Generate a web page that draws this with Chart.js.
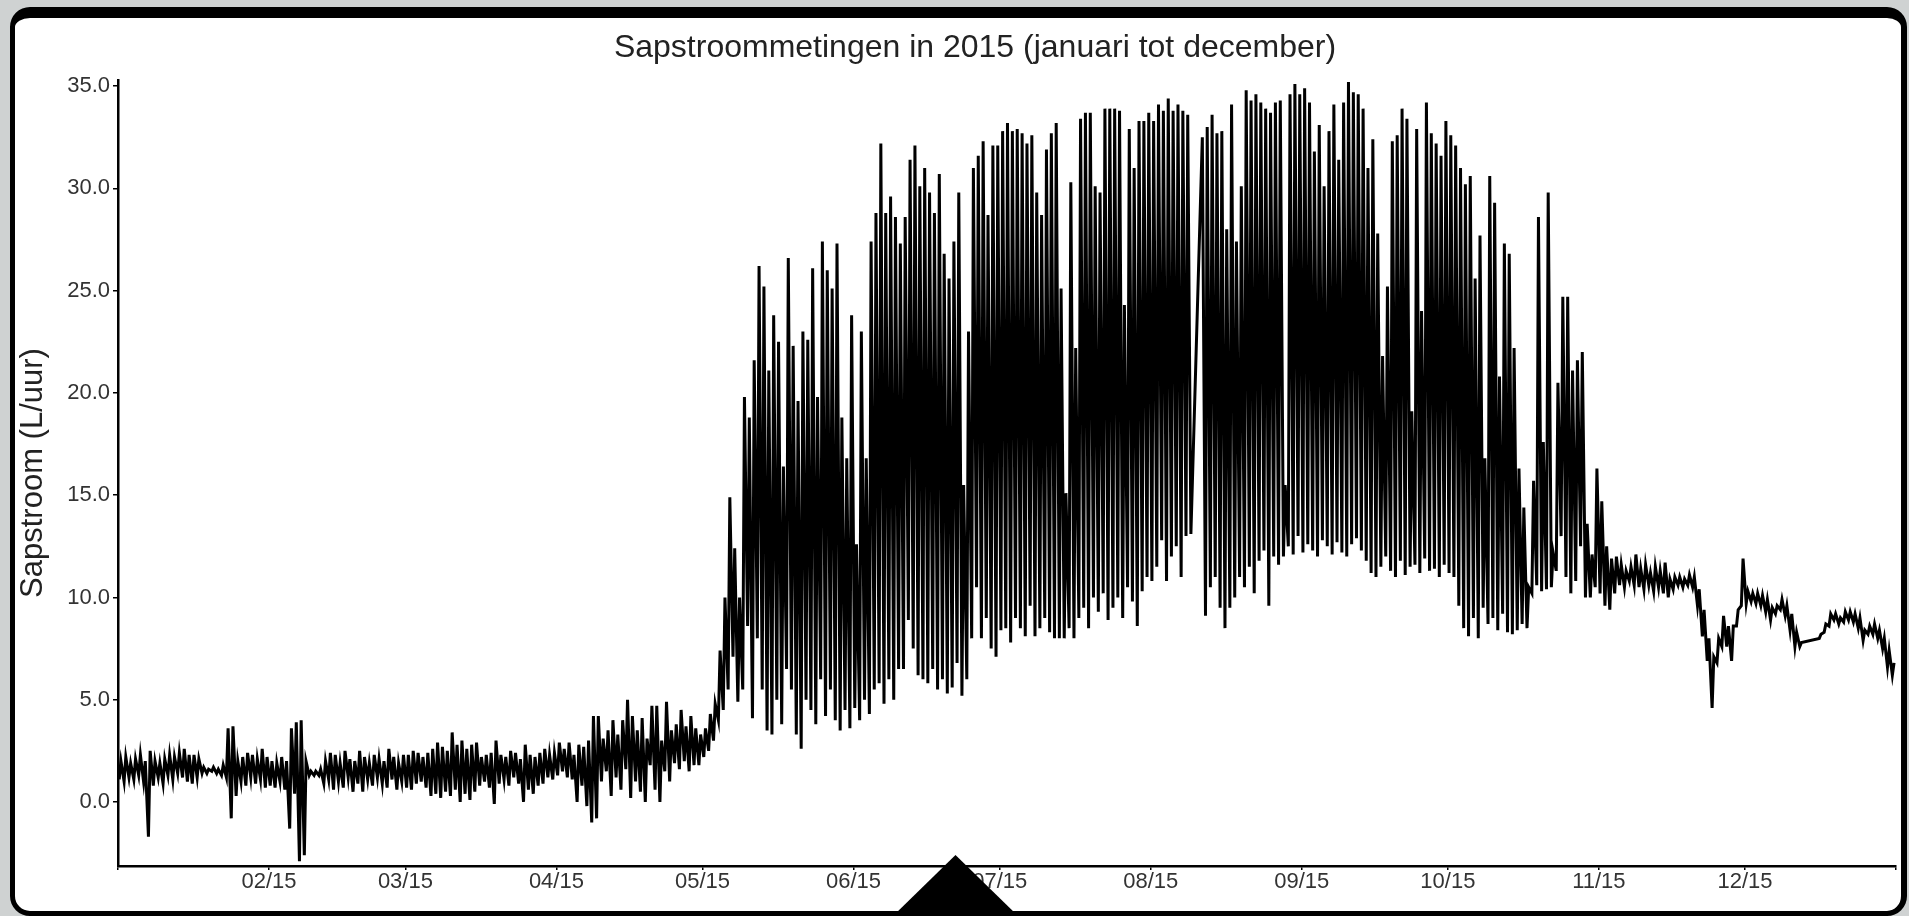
<!DOCTYPE html>
<html>
<head>
<meta charset="utf-8">
<script src="https://cdn.jsdelivr.net/npm/chart.js@4/dist/chart.umd.min.js"></script>
<style>
  html, body { margin: 0; padding: 0; width: 1909px; height: 916px; overflow: hidden; background: #cfd2d2; }
  #paneel { position: absolute; left: 10px; top: 7px; width: 1886px; height: 893px; background: #fff;
            border: 5px solid #000; border-top-width: 11px; border-right-width: 6px; border-radius: 20px; }
  #grafiek { position: absolute; left: 0; top: 0; width: 1909px; height: 916px; }
  #pijl { position: absolute; left: 893px; top: 855px; width: 125px; height: 61px; background: #000;
          clip-path: polygon(50% 0, 100% 100%, 0 100%); }
</style>
</head>
<body>
<div id="paneel"></div>
<div id="grafiek"><canvas id="sapstroom"></canvas></div>
<div id="pijl"></div>
<script>
// dagelijkse maxima / minima (L/uur), dag 0 = 1 januari 2015, null = geen meting
const dagMax = [
  // jan
  2.0, 2.2, 1.9, 2.1, 2.3, 2.0, 2.5, 2.0, 1.9, 2.1, 2.3, 2.2, 2.4, 2.6, 2.3, 2.3, 2.1, 1.7, 1.6, 1.7, 1.6, 1.8, 3.6, 3.7, 2.0, 2.2, 2.4, 2.3, 2.1, 2.6, 2.2,
  // feb
  2.0, 1.9, 2.2, 2.0, 3.6, 3.9, 4.0, 2.0, 1.5, 1.5, 1.6, 2.0, 2.4, 2.3, 1.9, 2.5, 2.1, 2.0, 2.5, 2.2, 1.9, 2.3, 2.1, 2.0, 2.6, 2.2, 1.9, 2.3,
  // mrt
  2.3, 2.5, 2.4, 2.2, 2.4, 2.6, 2.9, 2.7, 2.5, 3.4, 2.8, 3.0, 2.6, 2.8, 2.9, 2.2, 2.3, 2.4, 3.0, 2.3, 2.2, 2.5, 2.4, 2.1, 2.8, 2.3, 2.2, 2.4, 2.6, 2.3, 2.4,
  // apr
  2.9, 2.6, 2.9, 2.3, 2.8, 2.7, 3.0, 4.2, 4.2, 3.1, 3.5, 4.0, 3.3, 4.0, 5.0, 4.2, 3.5, 4.1, 3.1, 4.7, 4.7, 3.0, 4.9, 3.5, 3.8, 4.5, 3.7, 4.2, 3.6, 3.3,
  // mei
  3.6, 4.3, 4.8, 7.4, 10.0, 14.9, 12.4, 10.0, 19.8, 18.8, 21.6, 26.2, 25.2, 21.1, 23.8, 22.5, 16.4, 26.6, 22.3, 19.6, 23.0, 22.6, 26.1, 19.8, 27.4, 26.0, 25.1, 27.3, 18.8, 16.8, 23.8,
  // jun
  12.6, 23.0, 16.8, 27.4, 28.8, 32.2, 28.8, 29.6, 28.6, 27.3, 28.6, 31.4, 32.1, 30.1, 31.0, 29.8, 28.8, 30.7, 26.8, 25.6, 27.4, 29.8, 15.5, 23.0, 31.0, 31.6, 32.3, 28.7, 32.1, 32.1,
  // jul
  32.8, 33.2, 32.8, 32.9, 32.7, 32.2, 32.6, 29.8, 28.7, 31.9, 32.7, 33.2, 25.1, 15.1, 30.3, 22.2, 33.4, 33.7, 33.7, 30.1, 29.8, 33.9, 33.9, 33.9, 33.8, 24.3, 32.9, 31.0, 33.3, 33.3, 33.7,
  // aug
  33.3, 34.1, 33.8, 34.4, 33.8, 34.1, 33.8, 33.6, null, null, 32.5, 33.0, 33.6, 32.7, 32.8, 28.0, 34.1, 27.4, 30.1, 34.8, 34.3, 34.6, 34.2, 33.9, 33.7, 34.2, 34.3, 15.5, 34.6, 35.1, 34.6,
  // sep
  34.9, 34.2, 31.8, 33.1, 30.1, 32.8, 34.1, 31.4, 34.2, 35.2, 34.7, 34.6, 33.9, 31.0, 32.4, 27.8, 21.8, 25.2, 32.3, 32.6, 33.9, 33.4, 19.1, 32.9, 24.0, 34.2, 32.7, 32.2, 31.6, 33.3,
  // okt
  32.6, 32.1, 31.0, 30.2, 30.6, 25.6, 27.7, 16.8, 30.6, 29.3, 20.8, 27.3, 26.8, 22.2, 16.3, 14.4, 10.5, 15.7, 28.6, 17.6, 29.8, 12.2, 20.5, 24.7, 24.7, 21.1, 21.6, 22.0, 13.6, 12.1, 16.3,
  // nov
  14.7, 12.5, 11.9, 12.0, 11.6, 11.3, 11.5, 12.1, 11.4, 11.6, 11.2, 11.5, 11.3, 11.7, 10.9, 11.0, 11.0, 10.9, 11.1, 11.0, 10.4, 9.4, 8.0, 7.1, 8.0, 9.1, 8.6, 8.6, 9.4, 11.9,
  // dec
  10.3, 10.2, 10.2, 10.1, 9.9, 9.5, 9.6, 9.9, 9.6, 9.2, 8.3, 7.8, null, null, null, 8.2, 8.7, 9.2, 9.2, 9.0, 9.3, 9.3, 9.2, 9.0, 8.4, 8.6, 8.7, 8.4, 8.0, 7.4, 6.8
];
const dagMin = [
  // jan
  1.1, 1.0, 1.2, 1.1, 1.3, 1.0, -1.7, 0.8, 1.2, 0.9, 1.3, 1.1, 1.4, 1.2, 1.0, 0.9, 1.2, 1.4, 1.4, 1.5, 1.4, 1.3, 1.2, -0.8, 0.3, 1.0, 0.8, 1.2, 0.9, 1.1, 0.7,
  // feb
  0.8, 0.7, 1.0, 0.6, -1.3, 0.4, -2.9, -2.6, 1.3, 1.3, 1.3, 0.9, 1.1, 0.6, 1.0, 0.7, 1.2, 0.5, 0.9, 0.5, 1.1, 0.8, 1.2, 0.9, 0.7, 1.1, 0.6, 1.0,
  // mrt
  0.7, 0.6, 0.9, 1.0, 0.7, 0.3, 0.4, 0.2, 0.5, 0.3, 0.6, 0.0, 0.4, 0.1, 0.5, 0.8, 1.0, 0.7, -0.1, 0.9, 1.1, 0.8, 1.2, 0.9, 0.0, 0.6, 0.4, 0.8, 0.9, 1.2, 1.1,
  // apr
  1.3, 1.5, 1.2, 1.1, 0.0, 0.8, -0.2, -1.0, -0.8, 1.0, 1.5, 0.3, 1.2, 0.6, 1.6, 0.2, 1.0, 0.5, 0.0, 1.8, 0.6, 0.0, 1.5, 1.0, 1.9, 1.6, 2.0, 1.5, 1.8, 1.8,
  // mei
  2.2, 2.5, 3.0, 4.0, 4.5, 5.5, 7.1, 4.9, 5.5, 8.6, 4.1, 8.0, 5.5, 3.5, 3.3, 5.0, 3.8, 6.5, 5.5, 3.3, 2.6, 5.0, 4.5, 3.8, 6.0, 4.2, 5.5, 4.0, 3.5, 4.5, 3.6,
  // jun
  4.6, 4.0, 5.0, 4.3, 5.5, 5.8, 4.8, 6.0, 5.0, 6.5, 6.5, 8.9, 7.5, 6.2, 6.0, 5.8, 6.5, 5.5, 6.0, 5.3, 5.6, 6.8, 5.2, 6.0, 8.0, 10.5, 8.0, 9.0, 7.5, 7.1,
  // jul
  8.4, 8.5, 7.8, 9.0, 8.5, 8.1, 9.6, 8.1, 8.5, 9.0, 8.3, 8.0, 8.0, 8.0, 8.5, 8.0, 9.0, 9.5, 8.5, 10.0, 9.3, 10.2, 8.9, 9.5, 10.0, 9.0, 10.5, 9.8, 8.6, 10.3, 11.0,
  // aug
  10.8, 11.5, 12.8, 10.8, 12.0, 12.5, 11.0, 13.0, 13.1, null, null, 9.1, 10.5, 11.0, 9.5, 8.5, 9.5, 10.0, 11.0, 10.5, 11.5, 10.2, 11.8, 12.3, 9.6, 12.0, 11.6, 12.0, 12.5, 12.1, 13.0,
  // sep
  12.2, 12.6, 12.3, 12.0, 12.8, 12.5, 12.1, 12.7, 12.2, 12.0, 12.6, 12.9, 12.3, 11.8, 11.2, 11.0, 11.5, 12.0, 11.3, 11.0, 11.8, 11.1, 11.5, 11.6, 11.2, 11.9, 11.3, 11.4, 11.0, 11.6,
  // okt
  11.2, 11.0, 9.6, 8.5, 8.1, 9.0, 8.0, 9.5, 8.7, 9.0, 8.4, 9.2, 8.3, 8.2, 8.4, 8.7, 8.5, 10.2, 10.6, 10.3, 10.4, 10.5, 11.3, 13.0, 11.0, 10.2, 10.8, 12.5, 10.0, 10.0, 10.5,
  // nov
  10.2, 9.6, 9.4, 10.2, 10.6, 10.5, 10.8, 10.6, 10.5, 10.4, 10.6, 10.3, 10.5, 10.2, 10.0, 10.4, 10.6, 10.5, 10.6, 10.5, 9.6, 8.1, 6.9, 4.6, 6.8, 7.6, 7.6, 6.9, 8.6, 9.6,
  // dec
  9.7, 9.8, 9.7, 9.6, 9.3, 8.9, 9.2, 9.4, 9.1, 8.4, 7.6, 7.6, null, null, null, 8.0, 8.3, 8.6, 8.9, 8.7, 8.8, 8.9, 8.8, 8.5, 7.9, 8.2, 8.2, 8.0, 7.5, 6.6, 6.2
];

// as-indeling: eerste dag van elke maand
const maandStart = [0, 31, 59, 90, 120, 151, 181, 212, 243, 273, 304, 334, 365];
const maandLabels = ['', '02/15', '03/15', '04/15', '05/15', '06/15', '07/15', '08/15', '09/15', '10/15', '11/15', '12/15', ''];

// 's nachts laag, overdag hoog
const punten = [];
for (let d = 0; d < dagMax.length; d++) {
  if (dagMin[d] !== null) punten.push({ x: d + 0.25, y: dagMin[d] });
  if (dagMax[d] !== null) punten.push({ x: d + 0.6, y: dagMax[d] });
}

const lettertype = "'Liberation Sans', Arial, sans-serif";
const links = 54; // marge links, de y-as vult aan tot x = 118

new Chart(document.getElementById('sapstroom'), {
  type: 'line',
  data: {
    datasets: [{
      data: punten,
      borderColor: '#000',
      borderWidth: 3,
      pointRadius: 0,
      tension: 0
    }]
  },
  options: {
    responsive: true,
    maintainAspectRatio: false,
    animation: false,
    parsing: false,
    layout: { padding: { left: links, right: 13, top: 0, bottom: 0 } },
    plugins: {
      legend: { display: false },
      tooltip: { enabled: false },
      title: {
        display: true,
        text: 'Sapstroommetingen in 2015 (januari tot december)',
        color: '#222',
        font: { family: lettertype, size: 32, weight: 'normal' },
        padding: { top: 28.8, bottom: 12.8 }
      }
    },
    scales: {
      x: {
        type: 'linear',
        min: 0,
        max: 365,
        afterBuildTicks: (schaal) => { schaal.ticks = maandStart.map(v => ({ value: v })); },
        afterFit: (schaal) => { schaal.height = 50; },
        ticks: {
          autoSkip: false,
          maxRotation: 0,
          padding: -1,
          color: '#333',
          font: { family: lettertype, size: 22 },
          callback: (v, i) => maandLabels[i]
        },
        grid: { drawOnChartArea: false, drawTicks: true, tickLength: 4, color: '#000', lineWidth: 1.5 },
        border: { color: '#000', width: 2.5 }
      },
      y: {
        min: -3.13,
        max: 35.3,
        afterFit: (schaal) => { schaal.width = 118 - links; },
        ticks: {
          stepSize: 5,
          includeBounds: false,
          padding: 3,
          color: '#333',
          font: { family: lettertype, size: 22 },
          callback: (v) => v.toFixed(1)
        },
        title: {
          display: true,
          text: 'Sapstroom (L/uur)',
          color: '#222',
          font: { family: lettertype, size: 31 },
          padding: { top: 33 - links - 18.6, bottom: 0 }
        },
        grid: { drawOnChartArea: false, drawTicks: true, tickLength: 5, color: '#000', lineWidth: 1.5 },
        border: { color: '#000', width: 2.5 }
      }
    }
  }
});
</script>
</body>
</html>
